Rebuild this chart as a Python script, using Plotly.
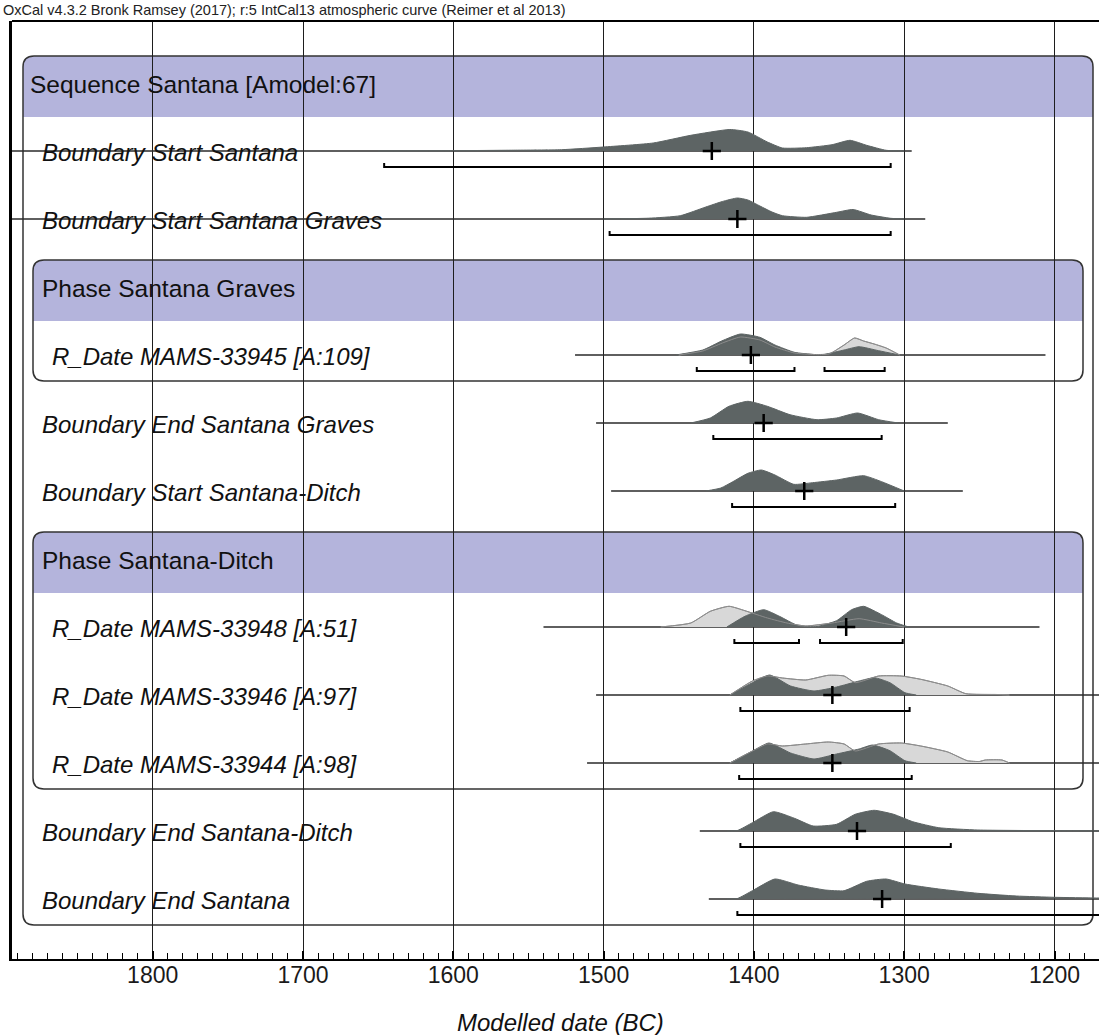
import plotly.graph_objects as go

# ---------------- data ----------------
row_labels = [
    "Sequence Santana [Amodel:67]",
    "Boundary Start Santana",
    "Boundary Start Santana Graves",
    "Phase Santana Graves",
    "R_Date MAMS-33945 [A:109]",
    "Boundary End Santana Graves",
    "Boundary Start Santana-Ditch",
    "Phase Santana-Ditch",
    "R_Date MAMS-33948 [A:51]",
    "R_Date MAMS-33946 [A:97]",
    "R_Date MAMS-33944 [A:98]",
    "Boundary End Santana-Ditch",
    "Boundary End Santana",
]
row_kinds = ["seq", "bound", "bound", "phase", "rdate", "bound", "bound",
             "phase", "rdate", "rdate", "rdate", "bound", "bound"]

# horizontal extent of each distribution line (years BC)
line_start = {1: 1950, 2: 1950, 4: 1519, 5: 1505, 6: 1495, 8: 1540, 9: 1505, 10: 1511, 11: 1436, 12: 1430}
line_end = {1: 1295, 2: 1286, 4: 1206, 5: 1271, 6: 1261, 8: 1210, 9: 1150, 10: 1150, 11: 1150, 12: 1150}

# posterior (modelled) densities
post_years = {
    1: [1650, 1600, 1560, 1528, 1500, 1467, 1442, 1416, 1404, 1391, 1381, 1365, 1348, 1336, 1325, 1312, 1300],
    2: [1500, 1470, 1449, 1432, 1421, 1411, 1404, 1396, 1388, 1381, 1365, 1345, 1334, 1322, 1309, 1300],
    4: [1452, 1434, 1421.5, 1409, 1396, 1386, 1373, 1360, 1353, 1340, 1330, 1317, 1303],
    5: [1442, 1429, 1416.6, 1404, 1391, 1376, 1358, 1345, 1331, 1317, 1304],
    6: [1432, 1422, 1414, 1404, 1395, 1386, 1373.5, 1361, 1345, 1327, 1315, 1300],
    8: [1418, 1406, 1393.5, 1383, 1370.5, 1358, 1345, 1335, 1327, 1315, 1305, 1297],
    9: [1416, 1401, 1389.5, 1375.6, 1360, 1345, 1330, 1319.8, 1309.5, 1299.5, 1292],
    10: [1416, 1401, 1390, 1375.6, 1360, 1345, 1330, 1321, 1309.5, 1299.5, 1292],
    11: [1418, 1411, 1401, 1387, 1373, 1360.6, 1345, 1332.6, 1320, 1307, 1294.3, 1277, 1251, 1200, 1165],
    12: [1418, 1411, 1401, 1386, 1370.6, 1352.6, 1340, 1325, 1312, 1299.5, 1277, 1251, 1225.5, 1200, 1172, 1150],
}
post_dens = {
    1: [0, 0.3, 0.8, 1.3, 4, 8, 15.7, 21.5, 19, 9, 3, 3.3, 6.3, 10.7, 5.7, 0.7, 0],
    2: [0, 0.8, 3.3, 12, 17.5, 21, 19, 13, 7, 3.3, 1.7, 6.7, 9.5, 4, 0.7, 0],
    4: [0, 5, 14, 21, 17.7, 10, 2.7, 0.5, 0.7, 5, 8.3, 4.3, 0],
    5: [0, 5, 16.7, 21.7, 16.7, 8.3, 3.3, 5, 10, 3.3, 0],
    6: [0, 3, 9.3, 17.7, 21, 16, 6.7, 8.3, 11, 15.3, 9.3, 0],
    8: [0, 10.7, 17.3, 10.7, 1.3, 0.5, 6.3, 17.3, 20.7, 12.3, 4, 0],
    9: [0, 12.3, 20, 9, 4, 8, 14, 17.3, 12.3, 2.3, 0],
    10: [0, 11.7, 20, 10, 4, 9, 14, 18, 12.3, 2.3, 0],
    11: [0, 0.5, 8.3, 19.3, 12.7, 5, 6.7, 16.7, 20.7, 16.7, 9.3, 3.3, 1, 0.3, 0],
    12: [0, 0.5, 8.3, 20, 14, 9, 8.3, 17.7, 20, 15, 10, 5.7, 3, 1.7, 1, 0.8],
}

# unmodelled likelihoods (light grey) for the R_Dates
like_years = {
    4: [1450, 1434, 1421, 1409, 1396, 1386, 1373, 1360, 1350, 1340, 1333, 1327, 1320, 1312, 1303],
    8: [1462, 1442, 1429, 1416.5, 1406, 1391, 1378, 1365.5, 1348, 1330, 1315, 1300],
    9: [1416, 1401, 1391, 1381, 1365.5, 1350.5, 1340, 1332.5, 1317, 1302, 1289, 1271, 1259, 1238, 1230],
    10: [1416, 1401, 1391, 1381, 1365.5, 1350.5, 1340, 1332.5, 1317, 1302, 1289, 1271, 1258, 1250, 1246, 1235, 1230],
}
like_dens = {
    4: [0, 4, 12, 18, 15, 8, 2, 0.5, 1, 10, 17, 14, 11, 7, 0],
    8: [0, 4, 15.7, 20.7, 16.3, 9, 4, 1, 4, 8.3, 4, 0],
    9: [0, 14, 19, 17, 15, 19.7, 19, 12.3, 19, 19, 15.7, 9, 1.3, 0.5, 0],
    10: [0, 12, 19, 17, 19, 21, 19, 12, 19, 20, 17, 11, 2.3, 1.5, 3, 3, 0],
}

# mean (+) and 95.4% ranges (brackets)
means = {1: 1428, 2: 1411, 4: 1402, 5: 1393.5, 6: 1366.5, 8: 1338.6, 9: 1347.8, 10: 1347.8, 11: 1331.4, 12: 1314.7}
ranges = {
    1: [(1646, 1309)],
    2: [(1496, 1309)],
    4: [(1438, 1373), (1353, 1313)],
    5: [(1427, 1315)],
    6: [(1414.5, 1306)],
    8: [(1413, 1370), (1356, 1301)],
    9: [(1409, 1296.4)],
    10: [(1409.8, 1295)],
    11: [(1409, 1269)],
    12: [(1411, 1150)],
}

tick_years = [1800, 1700, 1600, 1500, 1400, 1300, 1200]
title_text = "OxCal v4.3.2 Bronk Ramsey (2017); r:5 IntCal13 atmospheric curve (Reimer et al 2013)"
axis_title = "Modelled date (BC)"

# ---------------- layout geometry (pixels) ----------------
W, H = 1099, 1035
PLOT_L, PLOT_T, PLOT_B = 12, 21, 959
X1800, PX_PER_YEAR = 152.7, 1.503


def yr(px):
    return 1800 - (px - X1800) / PX_PER_YEAR


def xpaper(px):
    return (px - PLOT_L) / (W - PLOT_L)


def ypaper(py):
    return (PLOT_B - py) / (PLOT_B - PLOT_T)


ROW0, PITCH = 83, 68


def base(k):
    return ROW0 + k * PITCH


FONT = "Liberation Sans, Arial, Helvetica, sans-serif"
DARK = "#5d6464"
LIGHT = "#d8d8d8"
LIGHT_EDGE = "#8c8c8c"
BAND = "#b4b4dc"

fig = go.Figure()

for k in range(len(row_labels)):
    if k not in line_start:
        continue
    y0 = base(k)
    fig.add_trace(go.Scatter(x=[line_start[k], line_end[k]], y=[y0, y0], mode="lines",
                             line=dict(color="#2a2a2a", width=1.3), hoverinfo="skip", showlegend=False))
    if k in like_years:
        xs = like_years[k]
        ys = [y0 - d for d in like_dens[k]]
        fig.add_trace(go.Scatter(x=xs, y=ys, mode="lines", fill="toself", fillcolor=LIGHT,
                                 line=dict(color=LIGHT_EDGE, width=1, shape="spline", smoothing=0.5),
                                 hoverinfo="skip", showlegend=False))
    xs = post_years[k]
    ys = [y0 - d for d in post_dens[k]]
    fig.add_trace(go.Scatter(x=xs, y=ys, mode="lines", fill="toself", fillcolor=DARK,
                             line=dict(color=DARK, width=1, shape="spline", smoothing=0.5),
                             hoverinfo="skip", showlegend=False))
    if k in like_years:
        xs = like_years[k]
        ys = [y0 - d for d in like_dens[k]]
        fig.add_trace(go.Scatter(x=xs, y=ys, mode="lines",
                                 line=dict(color=LIGHT_EDGE, width=1, shape="spline", smoothing=0.5),
                                 hoverinfo="skip", showlegend=False))
    # mean cross
    fig.add_trace(go.Scatter(x=[means[k]], y=[y0], mode="markers",
                             marker=dict(symbol="cross-thin", size=13, line=dict(color="black", width=2.5)),
                             hoverinfo="skip", showlegend=False))
    # range brackets
    yb = y0 + 16
    for (a, b) in ranges[k]:
        fig.add_trace(go.Scatter(x=[a, a, b, b], y=[yb - 4, yb, yb, yb - 4], mode="lines",
                                 line=dict(color="black", width=2), hoverinfo="skip", showlegend=False))


# ---------------- boxes and header bands ----------------
def rrect_path(x0, y0, x1, y1, r, square_bottom=False):
    X0, X1 = yr(x0), yr(x1)
    Xr0, Xr1 = yr(x0 + r), yr(x1 - r)
    p = f"M {X0},{y0 + r} Q {X0},{y0} {Xr0},{y0} L {Xr1},{y0} Q {X1},{y0} {X1},{y0 + r} "
    if square_bottom:
        p += f"L {X1},{y1} L {X0},{y1} Z"
    else:
        p += (f"L {X1},{y1 - r} Q {X1},{y1} {Xr1},{y1} L {Xr0},{y1} "
              f"Q {X0},{y1} {X0},{y1 - r} Z")
    return p


boxes = [  # (header row, last row, left px, right px)
    (0, 12, 23, 1093),
    (3, 4, 33, 1083),
    (7, 10, 33, 1083),
]
shapes = []
for (h, last, xl, xr) in boxes:
    top = base(h) - 27
    shapes.append(dict(type="path", path=rrect_path(xl, top, xr, base(h) + 34, 11, square_bottom=True),
                       xref="x", yref="y", fillcolor=BAND, line=dict(width=0), layer="below"))
    shapes.append(dict(type="path", path=rrect_path(xl, top, xr, base(last) + 26, 11),
                       xref="x", yref="y", fillcolor="rgba(0,0,0,0)",
                       line=dict(color="#333333", width=1.5), layer="below"))
# top frame line
shapes.append(dict(type="line", xref="paper", yref="paper", x0=0, x1=1, y0=1, y1=1,
                   line=dict(color="black", width=2.2)))

annotations = []
for k, (lab, kind) in enumerate(zip(row_labels, row_kinds)):
    if kind == "seq":
        x, txt, fs = 28, lab, 24.5
    elif kind == "phase":
        x, txt, fs = 40, lab, 24.5
    elif kind == "bound":
        x, txt, fs = 40, f"<i>{lab}</i>", 24
    else:
        x, txt, fs = 50, f"<i>{lab}</i>", 24
    annotations.append(dict(x=yr(x), y=base(k) + 1, xref="x", yref="y", text=txt, showarrow=False,
                            xanchor="left", yanchor="middle",
                            font=dict(family=FONT, size=fs, color="#111111")))
annotations.append(dict(x=xpaper(1), y=ypaper(10), xref="paper", yref="paper", text=title_text,
                        showarrow=False, xanchor="left", yanchor="middle",
                        font=dict(family=FONT, size=14.5, color="#222222")))
annotations.append(dict(x=xpaper(560), y=ypaper(1022), xref="paper", yref="paper",
                        text=f"<i>{axis_title}</i>", showarrow=False,
                        xanchor="center", yanchor="middle", font=dict(family=FONT, size=24, color="#111111")))

fig.update_layout(
    width=W, height=H,
    margin=dict(l=PLOT_L, r=0, t=PLOT_T, b=H - PLOT_B, pad=0, autoexpand=False),
    paper_bgcolor="white", plot_bgcolor="white",
    shapes=shapes, annotations=annotations,
    xaxis=dict(range=[yr(PLOT_L), yr(W)], tickvals=tick_years, ticktext=[str(t) for t in tick_years],
               showgrid=True, gridcolor="#1e1e1e", gridwidth=1.3, zeroline=False,
               showline=True, linecolor="black", linewidth=2.2, automargin=False,
               ticks="inside", ticklen=8, tickwidth=1.5, tickcolor="black",
               ticklabelstandoff=-6,
               minor=dict(dtick=10, tick0=1200, ticks="inside", ticklen=6, tickwidth=1.2,
                          tickcolor="black", showgrid=False),
               tickfont=dict(family=FONT, size=23, color="#1a1a1a")),
    yaxis=dict(range=[PLOT_B, PLOT_T], showgrid=False, zeroline=False, showticklabels=False,
               showline=True, linecolor="black", linewidth=2.5, ticks="", automargin=False),
    showlegend=False,
)

fig.write_html("out.html", config={"displayModeBar": False},
               post_script="document.body.style.margin='0px';")
